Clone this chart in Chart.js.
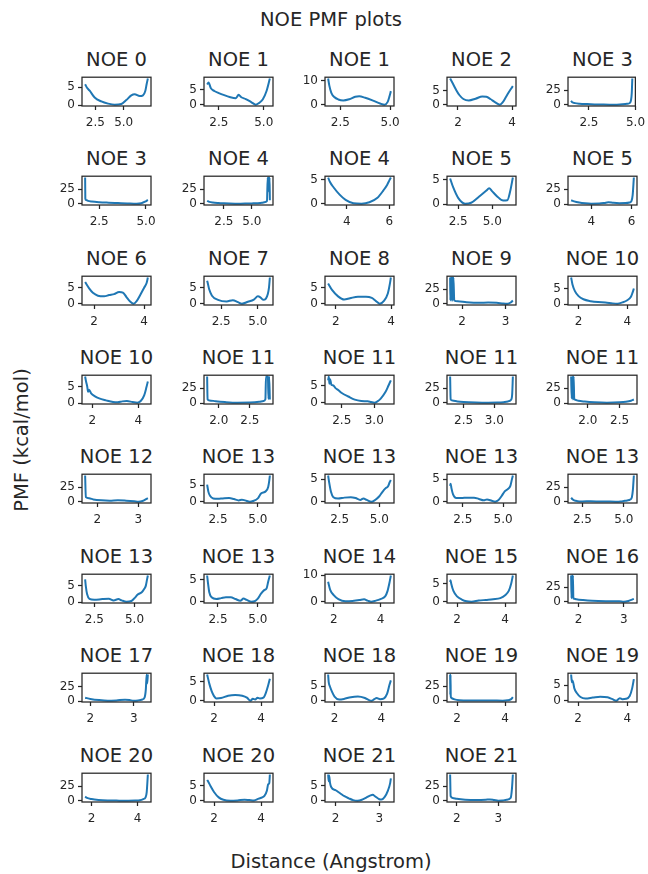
<!DOCTYPE html>
<html lang="en">
<head>
    <meta charset="UTF-8">
    <title>NOE PMF plots</title>
    <script src="https://cdn.jsdelivr.net/npm/chart.js"></script>
    <style>
        body { margin: 0; background: #fff; }
        #fig { position: relative; width: 648px; height: 874px; overflow: hidden; font-family: "DejaVu Sans", sans-serif; color: #262626; }
        .panel { position: absolute; }
        .txt { position: absolute; white-space: nowrap; font-size: 19.5px; line-height: 1; transform: translate(-50%, -50%); }
    </style>
</head>
<body>
<div id="fig">
    <div class="txt" style="left:331px; top:20px;">NOE PMF plots</div>
    <div class="txt" style="left:331px; top:862px;">Distance (Angstrom)</div>
    <div class="txt" style="left:22px; top:440px; transform: translate(-50%, -50%) rotate(-90deg);">PMF (kcal/mol)</div>
</div>
<script>
// one entry per subplot, row by row
const titles = [
    'NOE 0', 'NOE 1', 'NOE 1', 'NOE 2', 'NOE 3',
    'NOE 3', 'NOE 4', 'NOE 4', 'NOE 5', 'NOE 5',
    'NOE 6', 'NOE 7', 'NOE 8', 'NOE 9', 'NOE 10',
    'NOE 10', 'NOE 11', 'NOE 11', 'NOE 11', 'NOE 11',
    'NOE 12', 'NOE 13', 'NOE 13', 'NOE 13', 'NOE 13',
    'NOE 13', 'NOE 13', 'NOE 14', 'NOE 15', 'NOE 16',
    'NOE 17', 'NOE 18', 'NOE 18', 'NOE 19', 'NOE 19',
    'NOE 20', 'NOE 20', 'NOE 21', 'NOE 21'
];

// distance (Angstrom)
const distances = [
    [1.6, 1.75, 2.0, 2.44, 3.03, 3.62, 4.2, 4.79, 5.23, 5.67, 5.97, 6.41, 6.7, 6.91, 7.02, 7.13],
    [1.85, 1.93, 2.05, 2.25, 2.5, 2.8, 3.1, 3.45, 3.6, 3.75, 4.0, 4.3, 4.56, 4.75, 4.95, 5.15, 5.34],
    [1.89, 1.95, 2.05, 2.2, 2.4, 2.65, 2.95, 3.25, 3.45, 3.75, 4.15, 4.5, 4.72, 4.88, 4.97, 5.04],
    [1.71, 1.8, 1.92, 2.05, 2.2, 2.4, 2.65, 2.9, 3.05, 3.2, 3.38, 3.55, 3.65, 3.78, 3.92, 4.03],
    [1.54, 1.6, 1.75, 2.0, 2.4, 2.8, 3.2, 3.6, 4.0, 4.3, 4.55, 4.7, 4.76, 4.8, 4.83],

    [1.75, 1.76, 1.8, 1.9, 2.1, 2.5, 3.0, 3.5, 4.0, 4.5, 4.75, 4.95, 5.1],
    [1.0, 1.2, 1.5, 2.0, 2.5, 3.0, 3.5, 4.0, 4.5, 5.0, 5.5, 5.9, 6.2, 6.35, 6.42, 6.46, 6.5, 6.54, 6.58, 6.61],
    [3.12, 3.2, 3.38, 3.66, 3.94, 4.31, 4.69, 5.06, 5.44, 5.72, 5.9, 6.0, 6.07],
    [1.91, 2.13, 2.51, 3.01, 3.45, 4.04, 4.57, 4.77, 4.98, 5.36, 5.8, 6.1, 6.3, 6.51],
    [3.0, 3.15, 3.4, 3.7, 4.0, 4.4, 4.65, 4.85, 5.1, 5.4, 5.7, 5.9, 6.0, 6.06, 6.12],

    [1.64, 1.7, 1.8, 1.95, 2.15, 2.4, 2.6, 2.8, 3.0, 3.15, 3.3, 3.45, 3.58, 3.7, 3.85, 4.0, 4.1, 4.15],
    [1.54, 1.58, 1.68, 1.87, 2.28, 2.87, 3.29, 3.64, 3.91, 4.32, 4.73, 5.0, 5.17, 5.36, 5.55, 5.68, 5.76, 5.82],
    [1.72, 1.86, 2.08, 2.3, 2.51, 2.8, 3.09, 3.3, 3.45, 3.59, 3.74, 3.88, 3.96, 3.99],
    [1.725, 1.73, 1.74, 1.75, 1.76, 1.77, 1.78, 1.79, 1.8, 1.82, 1.9, 2.1, 2.4, 2.6, 2.8, 2.95, 3.05, 3.12, 3.17],
    [1.695, 1.75, 1.85, 2.0, 2.2, 2.5, 2.8, 3.1, 3.4, 3.6, 3.8, 4.0, 4.15, 4.22, 4.27],

    [1.69, 1.73, 1.78, 1.82, 1.86, 1.95, 2.1, 2.3, 2.6, 2.9, 3.1, 3.3, 3.5, 3.75, 3.95, 4.1, 4.25, 4.35, 4.41],
    [1.813, 1.82, 1.85, 1.95, 2.1, 2.3, 2.5, 2.65, 2.72, 2.75, 2.76, 2.79, 2.8, 2.81, 2.822],
    [2.29, 2.3, 2.31, 2.32, 2.34, 2.37, 2.4, 2.45, 2.5, 2.6, 2.7, 2.8, 2.9, 2.95, 3.0, 3.05, 3.1, 3.17, 3.22, 3.256],
    [2.282, 2.29, 2.32, 2.4, 2.5, 2.7, 2.9, 3.05, 3.15, 3.22, 3.27, 3.29, 3.301],
    [1.736, 1.745, 1.755, 1.765, 1.775, 1.785, 1.8, 1.85, 1.95, 2.1, 2.3, 2.5, 2.6, 2.68, 2.725],

    [1.703, 1.72, 1.8, 1.9, 2.1, 2.3, 2.5, 2.7, 2.9, 3.0, 3.1, 3.23],
    [1.82, 1.9, 2.0, 2.2, 2.5, 2.8, 3.2, 3.5, 3.8, 4.0, 4.2, 4.5, 4.7, 5.0, 5.2, 5.5, 5.65, 5.72, 5.755],
    [1.772, 1.85, 1.95, 2.1, 2.4, 2.8, 3.2, 3.5, 3.8, 4.0, 4.2, 4.5, 4.7, 5.0, 5.2, 5.4, 5.55, 5.65, 5.726],
    [1.72, 1.75, 1.8, 1.9, 2.1, 2.4, 2.8, 3.2, 3.5, 3.8, 4.0, 4.3, 4.5, 4.7, 4.9, 5.1, 5.3, 5.45, 5.55, 5.605],
    [1.82, 1.9, 2.0, 2.2, 2.5, 3.0, 3.5, 4.0, 4.5, 4.8, 5.0, 5.2, 5.38, 5.48, 5.54, 5.6],

    [1.93, 1.97, 2.05, 2.2, 2.5, 3.0, 3.4, 3.7, 4.0, 4.2, 4.5, 4.8, 5.0, 5.2, 5.45, 5.6, 5.7, 5.78, 5.83],
    [1.82, 1.88, 1.95, 2.1, 2.4, 2.7, 3.0, 3.3, 3.6, 3.9, 4.1, 4.3, 4.6, 4.8, 5.0, 5.2, 5.4, 5.55, 5.65, 5.755],
    [1.762, 1.85, 2.0, 2.2, 2.5, 2.8, 3.1, 3.3, 3.45, 3.6, 3.8, 4.0, 4.2, 4.3, 4.38, 4.444],
    [1.714, 1.73, 1.76, 1.85, 2.0, 2.2, 2.4, 2.6, 2.9, 3.2, 3.5, 3.8, 4.0, 4.15, 4.25, 4.321],
    [1.836, 1.845, 1.855, 1.865, 1.875, 1.885, 1.9, 1.95, 2.1, 2.3, 2.6, 2.9, 3.0, 3.1, 3.221],

    [1.878, 2.0, 2.2, 2.4, 2.6, 2.8, 2.9, 3.0, 3.1, 3.2, 3.25, 3.28, 3.3, 3.31, 3.327],
    [1.708, 1.8, 1.9, 2.0, 2.1, 2.3, 2.6, 2.9, 3.2, 3.4, 3.55, 3.65, 3.75, 3.85, 3.95, 4.1, 4.2, 4.3, 4.374],
    [1.727, 1.75, 1.8, 1.9, 2.0, 2.2, 2.4, 2.7, 3.0, 3.3, 3.5, 3.6, 3.7, 3.8, 3.95, 4.1, 4.25, 4.35, 4.409],
    [1.714, 1.72, 1.73, 1.74, 1.76, 1.9, 2.1, 2.5, 3.0, 3.5, 3.9, 4.1, 4.25, 4.321],
    [1.72, 1.75, 1.78, 1.85, 1.95, 2.1, 2.3, 2.6, 2.9, 3.2, 3.4, 3.55, 3.7, 3.8, 3.95, 4.1, 4.2, 4.27],

    [1.72, 1.8, 2.0, 2.3, 2.7, 3.2, 3.6, 3.9, 4.1, 4.25, 4.35, 4.4, 4.45],
    [1.708, 1.75, 1.85, 2.0, 2.2, 2.4, 2.7, 3.0, 3.3, 3.5, 3.7, 3.9, 4.05, 4.15, 4.25, 4.3, 4.35, 4.374],
    [1.827, 1.84, 1.85, 1.87, 1.9, 2.0, 2.1, 2.2, 2.3, 2.4, 2.5, 2.6, 2.7, 2.8, 2.85, 2.9, 3.0, 3.05, 3.12, 3.2, 3.25, 3.265],
    [1.838, 1.85, 1.9, 2.0, 2.2, 2.5, 2.7, 2.8, 2.9, 3.0, 3.1, 3.2, 3.3, 3.33, 3.353]
];

// PMF (kcal/mol)
const pmf = [
    [5.8, 4.9, 4.0, 2.1, 1.0, 0.4, 0.1, 0.3, 1.4, 2.7, 3.0, 2.5, 2.7, 4.0, 5.8, 7.4],
    [6.8, 7.5, 5.6, 4.6, 3.9, 3.2, 2.6, 2.2, 3.3, 2.5, 1.9, 0.9, 0.0, 0.6, 1.8, 4.5, 8.8],
    [11.0, 8.0, 5.0, 3.2, 2.2, 1.8, 2.3, 3.3, 3.5, 2.9, 1.7, 0.5, 0.0, 1.2, 3.5, 5.7],
    [9.2, 7.6, 5.4, 3.4, 2.0, 1.5, 2.1, 2.9, 2.8, 2.0, 0.8, 0.0, 0.8, 2.8, 5.0, 6.5],
    [7.0, 4.5, 3.0, 2.0, 1.3, 0.8, 0.5, 0.3, 0.4, 0.9, 1.8, 3.5, 8.0, 20, 45],

    [45, 9, 6.5, 5.0, 3.8, 2.6, 1.8, 1.2, 0.6, 0.1, 1.0, 3.5, 6.5],
    [5.0, 3.2, 2.0, 1.1, 0.6, 0.3, 0.1, 0.0, 0.2, 0.5, 0.9, 1.6, 2.8, 4.5, 45, 30, 45, 20, 45, 6],
    [5.5, 4.6, 3.4, 1.9, 0.8, 0.1, 0.0, 0.3, 1.25, 2.8, 4.0, 4.9, 5.5],
    [5.3, 3.5, 1.25, 0.1, 0.3, 1.6, 2.8, 3.3, 2.7, 1.6, 0.75, 0.8, 2.5, 5.5],
    [6.5, 4.5, 2.5, 1.2, 0.6, 0.8, 1.8, 3.0, 2.0, 1.5, 1.6, 2.5, 5.0, 15, 45],

    [6.8, 6.0, 4.8, 3.4, 2.5, 2.3, 2.7, 3.0, 3.7, 3.5, 2.0, 0.6, 0.0, 0.8, 2.8, 5.0, 6.5, 8.2],
    [7.2, 6.5, 4.5, 2.5, 1.2, 0.7, 1.1, 0.5, 0.0, 0.6, 1.3, 2.3, 2.0, 1.2, 1.6, 3.0, 5.0, 8.2],
    [6.3, 4.3, 2.3, 1.3, 1.7, 2.2, 2.2, 1.8, 0.8, 0.0, 0.9, 3.2, 6.5, 8.2],
    [45, 6, 45, 8, 45, 5, 45, 7, 45, 6, 4.5, 3.0, 2.0, 2.4, 2.0, 0.8, 0.5, 2.5, 6],
    [8.5, 6.3, 4.2, 2.6, 1.6, 1.0, 0.7, 0.6, 0.3, 0.2, 0.6, 1.3, 2.4, 3.8, 5.0],

    [8.0, 6.5, 5.0, 3.4, 4.0, 2.9, 2.1, 1.4, 0.8, 0.3, 0.2, 0.5, 0.6, 0.3, 0.1, 0.6, 2.3, 4.8, 6.5],
    [45, 6, 4.5, 3.0, 1.6, 0.6, 0.8, 2.0, 3.5, 6.5, 45, 45, 7, 45, 6],
    [6.5, 7.6, 5.5, 6.8, 5.2, 5.0, 4.3, 3.6, 2.8, 1.8, 0.9, 0.5, 0.4, 0.2, 0.0, 0.4, 1.2, 3.0, 5.0, 6.5],
    [45, 6, 4, 2.5, 1.5, 0.6, 0.3, 0.5, 1.2, 2.5, 5, 15, 45],
    [45, 8, 45, 6, 45, 7, 5.5, 3.8, 2.5, 1.3, 0.6, 1.2, 2.2, 4.0, 6.0],

    [45, 8, 6, 4.2, 2.6, 2.0, 2.6, 2.0, 1.0, 0.3, 1.5, 6.5],
    [5.2, 3.0, 1.8, 1.0, 0.9, 1.0, 1.1, 0.8, 0.4, 0.6, 0.4, 0.0, 0.2, 1.0, 2.5, 3.2, 4.5, 6.5, 8.0],
    [5.8, 4.0, 2.2, 1.0, 0.7, 0.9, 1.0, 0.8, 0.4, 0.7, 0.4, 0.0, 0.3, 1.2, 2.2, 3.0, 3.4, 4.3, 4.8],
    [3.5, 4.0, 3.0, 1.6, 0.8, 0.8, 0.9, 0.9, 0.6, 0.3, 0.5, 0.2, 0.0, 0.3, 1.2, 2.3, 2.8, 3.5, 5.0, 5.8],
    [7, 4.5, 2.5, 1.2, 0.8, 0.9, 0.7, 0.5, 0.3, 0.6, 1.5, 2.5, 4.0, 8, 20, 45],

    [7.0, 5.0, 2.5, 1.0, 0.7, 0.9, 1.0, 0.5, 0.9, 0.5, 0.1, 0.3, 1.2, 2.3, 3.0, 4.0, 5.0, 7.0, 8.2],
    [5.9, 4.0, 2.2, 1.0, 0.6, 0.8, 1.0, 1.0, 0.6, 0.2, 0.7, 0.4, 0.0, 0.1, 0.7, 1.8, 2.6, 3.0, 4.5, 5.9],
    [7.5, 4.5, 2.5, 1.0, 0.2, 0.3, 0.6, 0.9, 0.4, 0.0, 0.4, 1.0, 2.0, 4.0, 7.0, 9.9],
    [5.5, 6.0, 5.0, 3.0, 1.5, 0.6, 0.1, 0.0, 0.3, 0.5, 0.7, 1.0, 1.8, 3.0, 5.0, 7.3],
    [45, 6, 45, 8, 45, 6, 5.5, 4.5, 3.0, 1.8, 1.2, 1.0, 0.3, 1.5, 5],

    [6, 4, 2, 1, 1.5, 2.5, 2.0, 1.0, 1.5, 3, 6, 20, 45, 30, 45],
    [6.9, 4.5, 2.5, 1.2, 0.6, 0.7, 1.3, 1.5, 1.3, 0.8, 0.0, 0.5, 0.3, 0.8, 0.6, 0.8, 2.0, 4.0, 5.8],
    [9.0, 6.5, 5.0, 3.0, 1.5, 0.5, 0.7, 1.3, 1.5, 1.0, 0.2, 0.1, 0.6, 1.0, 0.6, 0.8, 2.5, 5.5, 7.0],
    [45, 10, 45, 8, 5, 2.5, 1.2, 0.8, 0.8, 0.6, 0.3, 1.0, 3.0, 6.5],
    [8.5, 6.0, 6.5, 4.0, 2.5, 1.2, 0.7, 1.0, 1.3, 1.1, 0.5, 0.0, 0.8, 0.5, 0.6, 1.5, 4.0, 7.0],

    [7, 5, 3, 1.5, 0.6, 0.3, 0.2, 0.4, 1.0, 3, 6, 15, 45],
    [7.0, 6.5, 5.0, 3.0, 1.2, 0.4, 0.1, 0.2, 0.4, 0.3, 0.2, 0.8, 1.2, 1.8, 3.5, 5.5, 6.0, 8.8],
    [8.8, 6.5, 8.5, 6.0, 4.5, 3.5, 2.5, 1.5, 0.8, 0.2, 0.0, 0.3, 1.0, 1.8, 2.0, 1.5, 0.5, 0.4, 1.2, 3.5, 6.0, 7.5],
    [45, 8, 5, 3.5, 2.0, 1.5, 2.0, 2.5, 1.5, 0.3, 0.5, 2.0, 5, 20, 45]
];

const xTickLabels = [
    ['2.5', '5.0'], ['2.5', '5.0'], ['2.5', '5.0'], ['2', '4'], ['2.5', '5.0'],
    ['2.5', '5.0'], ['2.5', '5.0'], ['4', '6'], ['2.5', '5.0'], ['4', '6'],
    ['2', '4'], ['2.5', '5.0'], ['2', '4'], ['2', '3'], ['2', '4'],
    ['2', '4'], ['2.0', '2.5'], ['2.5', '3.0'], ['2.5', '3.0'], ['2.0', '2.5'],
    ['2', '3'], ['2.5', '5.0'], ['2.5', '5.0'], ['2.5', '5.0'], ['2.5', '5.0'],
    ['2.5', '5.0'], ['2.5', '5.0'], ['2', '4'], ['2', '4'], ['2', '3'],
    ['2', '3'], ['2', '4'], ['2', '4'], ['2', '4'], ['2', '4'],
    ['2', '4'], ['2', '4'], ['2', '3'], ['2', '3']
];

const yTickLabels = [
    ['0', '5'], ['0', '5'], ['0', '10'], ['0', '5'], ['0', '25'],
    ['0', '25'], ['0', '25'], ['0', '5'], ['0', '5'], ['0', '25'],
    ['0', '5'], ['0', '5'], ['0', '5'], ['0', '25'], ['0', '5'],
    ['0', '5'], ['0', '25'], ['0', '5'], ['0', '25'], ['0', '25'],
    ['0', '25'], ['0', '5'], ['0', '5'], ['0', '5'], ['0', '25'],
    ['0', '5'], ['0', '5'], ['0', '10'], ['0', '5'], ['0', '25'],
    ['0', '25'], ['0', '5'], ['0', '5'], ['0', '25'], ['0', '5'],
    ['0', '25'], ['0', '5'], ['0', '5'], ['0', '25']
];

// grid geometry (px)
const NCOLS = 5;
const LEFT0 = 82.3, TOP0 = 75.7, COL_STEP = 121.5, ROW_STEP = 99.4;
const BOX_W = 69, BOX_H = 30;
const Y_AXIS_W = 36, X_AXIS_H = 30, PAD_T = 9, PAD_R = 14;
const INK = '#262626';
const tickFont = { family: 'DejaVu Sans', size: 12 };

// matplotlib-style 5% margins around the data
function limits(vals) {
    const lo = Math.min(...vals), hi = Math.max(...vals);
    const m = (hi - lo) * 0.05;
    return [lo - m, hi + m];
}

// full box around each axes, drawn over the line like matplotlib spines
const frame = {
    id: 'frame',
    afterDatasetsDraw(chart) {
        const { ctx, chartArea: a } = chart;
        ctx.save();
        ctx.strokeStyle = INK;
        ctx.lineWidth = 1.25;
        ctx.strokeRect(a.left, a.top, a.right - a.left, a.bottom - a.top);
        ctx.restore();
    }
};

function axisOpts(labels, lim, fitKey, fitVal, pad, extra) {
    return Object.assign({
        type: 'linear',
        min: lim[0],
        max: lim[1],
        border: { display: false },
        grid: { display: true, drawOnChartArea: false, drawTicks: true, tickLength: 4, tickWidth: 1.25, tickColor: INK },
        ticks: { font: tickFont, color: INK, padding: pad, autoSkip: false, maxRotation: 0, callback: (v, k) => labels[k] },
        afterBuildTicks: s => { s.ticks = labels.map(t => ({ value: parseFloat(t) })); },
        afterFit: s => { s[fitKey] = fitVal; }
    }, extra);
}

const fig = document.getElementById('fig');

titles.forEach((title, i) => {
    const col = i % NCOLS, row = Math.floor(i / NCOLS);
    const boxLeft = Math.round(LEFT0 + col * COL_STEP);
    const boxTop = Math.round(TOP0 + row * ROW_STEP);

    const t = document.createElement('div');
    t.className = 'txt';
    t.style.left = (boxLeft + BOX_W / 2) + 'px';
    t.style.top = (boxTop - 16) + 'px';
    t.textContent = title;
    fig.appendChild(t);

    const canvas = document.createElement('canvas');
    canvas.className = 'panel';
    canvas.width = Y_AXIS_W + BOX_W + PAD_R;
    canvas.height = PAD_T + BOX_H + X_AXIS_H;
    canvas.style.left = (boxLeft - Y_AXIS_W) + 'px';
    canvas.style.top = (boxTop - PAD_T) + 'px';
    fig.appendChild(canvas);

    const xs = distances[i], ys = pmf[i];
    new Chart(canvas, {
        type: 'line',
        data: {
            datasets: [{
                data: xs.map((x, k) => ({ x, y: ys[k] })),
                borderColor: '#1f77b4',
                borderWidth: 2,
                pointRadius: 0,
                cubicInterpolationMode: 'monotone',
                fill: false
            }]
        },
        options: {
            responsive: false,
            animation: false,
            devicePixelRatio: 1,
            layout: { padding: { left: 0, top: PAD_T, right: PAD_R, bottom: 0 } },
            plugins: { legend: { display: false }, title: { display: false }, tooltip: { enabled: false } },
            scales: {
                x: axisOpts(xTickLabels[i], limits(xs), 'height', X_AXIS_H, 6, { position: 'bottom' }),
                y: axisOpts(yTickLabels[i], limits(ys), 'width', Y_AXIS_W, 3, { position: 'left' })
            }
        },
        plugins: [frame]
    });
    canvas.style.position = 'absolute';
});
</script>
</body>
</html>
